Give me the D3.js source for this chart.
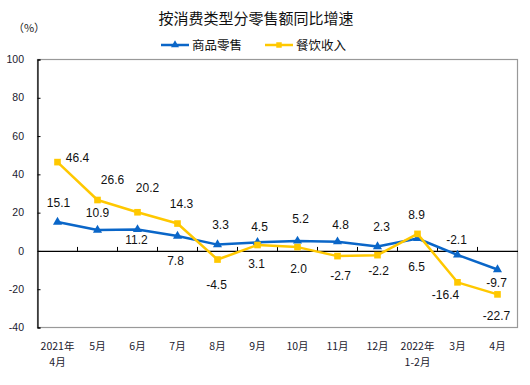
<!DOCTYPE html>
<html>
<head>
<meta charset="utf-8">
<script src="https://cdn.jsdelivr.net/npm/d3@7"></script>
<style>
  body { margin: 0; background: #fff; }
  svg { display: block; }
  .tick-y { font-family: Arial, "Liberation Sans", sans-serif; font-size: 10.5px; fill: #1a1a2e; }
  .tick-x { font-family: "Noto Sans CJK SC", sans-serif; font-size: 10.5px; fill: #1a1a2e; }
  .lbl { font-family: Arial, "Liberation Sans", sans-serif; font-size: 12px; fill: #111; }
</style>
</head>
<body>
<svg width="530" height="385"></svg>
<script>
// categories (two-line labels)
var months = ['2021年|4月', '5月', '6月', '7月', '8月', '9月', '10月', '11月', '12月', '2022年|1-2月', '3月', '4月'];
var goods = [15.1, 10.9, 11.2, 7.8, 3.3, 4.5, 5.2, 4.8, 2.3, 6.5, -2.1, -9.7];
var catering = [46.4, 26.6, 20.2, 14.3, -4.5, 3.1, 2.0, -2.7, -2.2, 8.9, -16.4, -22.7];
var yTicks = [-40, -20, 0, 20, 40, 60, 80, 100];
var seriesNames = ['商品零售', '餐饮收入'];

// label offsets (dx, dy of text centre from the point)
var goodsOff = [[1, -19], [0, -17], [-1, 10], [-2, 25], [3, -20], [2, -16], [3, -22], [3, -17], [4, -20], [-1, 28], [-1, -15], [-1, 13]];
var cateringOff = [[20, -4], [15, -20], [10, -24], [4, -20], [-1, 25], [-1, 19], [1, 22], [3, 20], [1, 16], [-1, -19], [-12, 12], [-1, 21]];

var blue = '#0A66C8';
var yellow = '#FFC800';

var svg = d3.select('svg');
var margin = { left: 37.5, right: 12.5, top: 59.5, bottom: 57.5 };
var width = 530, height = 385;

var x = d3.scaleBand().domain(months).range([margin.left, width - margin.right]);
var y = d3.scaleLinear().domain([-40, 100]).range([height - margin.bottom, margin.top]);

// title
svg.append('text')
  .attr('x', 256).attr('y', 24)
  .attr('text-anchor', 'middle')
  .style('font-family', '"Noto Sans CJK SC", sans-serif')
  .style('font-size', '15px')
  .style('fill', '#111')
  .text('按消费类型分零售额同比增速');

svg.append('text')
  .attr('x', 29).attr('y', 32)
  .attr('text-anchor', 'middle')
  .style('font-family', '"Noto Sans CJK SC", sans-serif')
  .style('font-size', '11px')
  .style('fill', '#222')
  .text('（%）');

// legend
var legend = svg.append('g');
[[161, blue, 'tri'], [265, yellow, 'sq']].forEach(function (it, i) {
  var g = legend.append('g').attr('transform', 'translate(' + it[0] + ',45)');
  g.append('line').attr('x1', 0).attr('x2', 28).attr('y1', 0).attr('y2', 0)
    .attr('stroke', it[1]).attr('stroke-width', 2.5);
  g.append('path')
    .attr('d', d3.symbol().type(it[2] == 'tri' ? d3.symbolTriangle : d3.symbolSquare).size(it[2] == 'tri' ? 28 : 30))
    .attr('transform', 'translate(14,0)')
    .attr('fill', it[1]);
  g.append('text').attr('x', 31).attr('y', 0).attr('dy', '0.36em')
    .style('font-family', '"Noto Sans CJK SC", sans-serif')
    .style('font-size', '12.5px').style('fill', '#111')
    .text(seriesNames[i]);
});

// frame
svg.append('rect')
  .attr('x', margin.left).attr('y', margin.top)
  .attr('width', width - margin.left - margin.right)
  .attr('height', height - margin.top - margin.bottom)
  .attr('fill', 'none').attr('stroke', '#999').attr('stroke-width', 1.2);

// y axis
var yAxis = svg.append('g')
  .attr('transform', 'translate(' + margin.left + ',0)')
  .call(d3.axisRight(y).tickValues(yTicks).tickSize(3).tickFormat(''));
yAxis.select('.domain').attr('stroke', '#000').attr('stroke-width', 1.2);
yAxis.selectAll('.tick line').attr('stroke', '#000');
svg.selectAll('.ylab')
  .data(yTicks).enter().append('text')
  .attr('class', 'tick-y')
  .attr('x', 24).attr('y', function (d) { return y(d); })
  .attr('dy', '0.35em')
  .attr('text-anchor', 'end')
  .text(function (d) { return d; });

// zero line with upward ticks at category boundaries
var xAxis = svg.append('g')
  .attr('transform', 'translate(0,' + y(0) + ')')
  .call(d3.axisTop(x).tickSize(0).tickFormat(''));
xAxis.select('.domain').attr('stroke', '#000').attr('stroke-width', 1.2);
xAxis.selectAll('.tick').remove();
xAxis.selectAll('.bnd')
  .data(months.slice(1)).enter().append('line')
  .attr('x1', function (d) { return x(d); })
  .attr('x2', function (d) { return x(d); })
  .attr('y1', 0).attr('y2', -4)
  .attr('stroke', '#000');

// category labels
var cat = svg.selectAll('.xlab')
  .data(months).enter().append('text')
  .attr('class', 'tick-x')
  .attr('text-anchor', 'middle')
  .attr('x', function (d) { return x(d) + x.bandwidth() / 2; })
  .attr('y', 350);
cat.each(function (d) {
  var parts = d.split('|');
  var t = d3.select(this);
  parts.forEach(function (p, i) {
    t.append('tspan')
      .attr('x', x(d) + x.bandwidth() / 2)
      .attr('dy', i == 0 ? 0 : 16)
      .text(p);
  });
});

var cx = function (d, i) { return x(months[i]) + x.bandwidth() / 2; };
var line = d3.line().x(function (d, i) { return cx(d, i); }).y(function (d) { return y(d); });

function drawSeries(vals, color, sym, size) {
  svg.append('path')
    .datum(vals)
    .attr('d', line)
    .attr('fill', 'none')
    .attr('stroke', color)
    .attr('stroke-width', 2.5)
    .attr('stroke-linejoin', 'round');
  svg.selectAll(null)
    .data(vals).enter().append('path')
    .attr('d', d3.symbol().type(sym).size(size))
    .attr('transform', function (d, i) { return 'translate(' + cx(d, i) + ',' + y(d) + ')'; })
    .attr('fill', color);
}

drawSeries(goods, blue, d3.symbolTriangle, 36);
drawSeries(catering, yellow, d3.symbolSquare, 44);

function drawLabels(vals, off) {
  svg.selectAll(null)
    .data(vals).enter().append('text')
    .attr('class', 'lbl')
    .attr('text-anchor', 'middle')
    .attr('dy', '0.35em')
    .attr('x', function (d, i) { return cx(d, i) + off[i][0]; })
    .attr('y', function (d, i) { return y(d) + off[i][1]; })
    .text(function (d) { return d.toFixed(1); });
}

drawLabels(goods, goodsOff);
drawLabels(catering, cateringOff);
</script>
</body>
</html>
